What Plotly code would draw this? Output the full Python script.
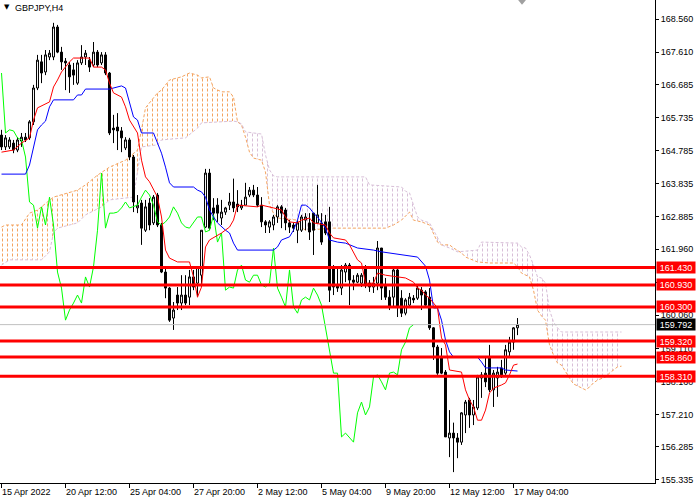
import plotly.graph_objects as go

# GBPJPY H4 with Ichimoku, bar 0 = 15 Apr 2022 20:00, last bar = 17 May
open_ = [165.23, 164.89, 164.89, 165.00, 164.80, 165.06, 165.17, 165.15, 165.61, 166.58,
         167.33, 167.04, 167.47, 167.47, 168.33, 167.61, 167.35, 167.24, 167.10, 166.72,
         167.30, 167.47, 167.38, 167.24, 167.61, 167.30, 167.53, 167.01, 165.43, 165.46,
         165.35, 164.86, 165.09, 164.60, 163.14, 163.28, 162.50, 163.28, 162.71, 163.51,
         162.65, 161.30, 160.84, 159.98, 160.64, 160.41, 160.64, 160.58, 161.16, 160.98,
         161.21, 162.59, 164.14, 163.14, 163.22, 162.85, 163.02, 163.22, 163.31, 163.25,
         163.14, 163.22, 163.51, 163.65, 163.51, 163.22, 162.74, 162.59, 162.65, 162.88,
         163.17, 163.08, 162.71, 162.65, 162.50, 162.50, 162.79, 162.71, 162.99, 162.71,
         162.71, 162.74, 162.74, 161.42, 160.93, 160.84, 161.30, 161.50, 161.07, 161.01,
         160.98, 161.45, 160.98, 160.87, 160.98, 161.99, 160.93, 160.58, 160.58, 161.36,
         160.55, 160.12, 160.35, 160.55, 160.55, 160.78, 160.73, 160.58, 159.70, 159.15,
         158.86, 158.43, 156.54, 156.68, 156.54, 156.42, 157.20, 157.63, 157.20, 157.40,
         158.26, 158.40, 158.86, 157.92, 158.26, 158.55, 158.40, 159.01, 159.29, 159.70]
high = [165.38, 165.23, 165.17, 165.09, 165.17, 165.29, 165.29, 165.66, 166.67, 167.53,
        167.53, 167.67, 167.67, 168.45, 168.39, 167.76, 167.44, 167.33, 167.30, 167.38,
        167.81, 167.67, 167.47, 167.90, 167.67, 167.61, 167.61, 167.04, 165.81, 165.86,
        165.46, 165.17, 165.15, 164.66, 163.51, 163.37, 163.37, 163.42, 163.51, 163.57,
        162.71, 161.42, 160.87, 160.44, 160.87, 161.21, 161.21, 161.36, 161.36, 161.45,
        162.50, 164.26, 164.26, 163.42, 163.42, 163.37, 163.17, 163.57, 163.98, 163.65,
        163.37, 163.86, 163.74, 163.80, 163.74, 163.45, 162.79, 162.79, 162.94, 163.22,
        163.22, 163.14, 162.79, 162.71, 162.79, 162.94, 162.99, 162.99, 162.99, 163.80,
        162.99, 162.94, 163.17, 161.50, 161.45, 161.50, 161.56, 161.56, 161.21, 161.27,
        161.27, 161.50, 161.07, 161.16, 162.19, 161.99, 161.13, 160.78, 161.42, 161.45,
        160.78, 160.55, 160.70, 160.64, 160.93, 160.87, 160.78, 160.84, 159.72, 159.21,
        159.12, 158.49, 157.34, 156.98, 156.68, 157.28, 157.63, 157.69, 157.63, 158.35,
        158.43, 158.86, 159.21, 158.49, 158.58, 158.78, 159.21, 159.44, 159.72, 159.98]
low = [164.80, 164.80, 164.83, 164.71, 164.74, 164.89, 165.03, 165.09, 165.52, 166.52,
       166.72, 166.95, 167.38, 167.38, 167.58, 167.10, 166.52, 166.44, 166.67, 166.67,
       167.24, 167.24, 167.04, 167.18, 167.18, 167.24, 166.95, 165.23, 165.00, 164.80,
       164.74, 164.80, 164.51, 163.02, 162.99, 162.08, 162.45, 162.50, 162.65, 162.59,
       161.27, 160.55, 159.87, 159.64, 160.21, 160.21, 160.35, 160.35, 160.78, 160.58,
       160.87, 162.56, 162.50, 162.79, 162.74, 162.65, 162.94, 163.08, 163.02, 163.02,
       163.08, 163.22, 163.45, 163.45, 163.17, 162.59, 162.42, 162.42, 162.50, 162.71,
       162.56, 162.50, 162.42, 162.45, 162.13, 162.45, 162.50, 162.22, 161.79, 162.71,
       162.08, 162.36, 160.44, 160.64, 160.73, 160.64, 161.01, 160.35, 160.78, 160.98,
       160.87, 160.84, 160.73, 160.70, 160.78, 160.50, 160.50, 160.21, 160.30, 160.01,
       160.01, 160.06, 160.30, 160.41, 160.50, 160.21, 160.30, 159.64, 158.78, 158.35,
       158.37, 156.57, 155.99, 155.56, 155.96, 156.34, 156.68, 156.83, 156.91, 157.34,
       157.69, 158.00, 157.86, 157.43, 157.72, 158.26, 158.35, 158.86, 159.07, 159.49]
close = [164.89, 165.15, 165.09, 164.80, 165.09, 165.17, 165.09, 165.61, 166.58, 167.38,
         167.01, 167.53, 167.58, 168.33, 167.61, 167.33, 167.30, 166.90, 166.95, 167.30,
         167.47, 167.58, 167.18, 167.61, 167.24, 167.53, 167.01, 165.29, 165.38, 165.35,
         165.15, 165.09, 164.60, 163.31, 163.22, 162.56, 163.17, 162.65, 163.45, 162.65,
         161.30, 160.84, 159.92, 160.21, 160.41, 160.64, 160.41, 161.16, 160.87, 161.45,
         162.50, 164.14, 162.56, 162.99, 162.99, 163.02, 163.14, 163.31, 163.14, 163.17,
         163.22, 163.45, 163.65, 163.51, 163.22, 162.74, 162.65, 162.74, 162.88, 163.17,
         162.99, 162.71, 162.59, 162.56, 162.71, 162.88, 162.88, 162.45, 162.50, 162.94,
         162.16, 162.42, 160.78, 160.87, 160.84, 161.36, 161.50, 161.07, 161.01, 161.21,
         161.21, 160.93, 160.87, 160.98, 161.99, 160.84, 160.58, 160.30, 161.36, 160.30,
         160.12, 160.50, 160.58, 160.50, 160.84, 160.64, 160.35, 159.70, 159.15, 158.40,
         158.40, 156.57, 156.68, 156.54, 156.42, 157.26, 157.57, 157.20, 157.43, 158.29,
         158.35, 158.15, 157.92, 158.40, 158.43, 158.35, 159.07, 159.29, 159.70, 159.792]
bars = list(range(len(close)))

# Tenkan-sen (red)
tenkan_x = [0, 3, 5, 7, 8, 9, 12, 13, 14, 15, 17, 18, 22, 23, 25, 26, 27, 28, 30, 31,
            32, 34, 35, 36, 37, 38, 39, 40, 41, 42, 44, 47, 48, 49, 50, 51, 52, 55, 56, 57,
            58, 59, 64, 65, 68, 70, 71, 72, 74, 75, 77, 78, 81, 82, 83, 86, 87, 89, 90, 91,
            93, 94, 96, 101, 103, 104, 105, 106, 107, 109, 110, 111, 112, 115, 116, 117, 118,
            119, 120, 121, 122, 123, 125, 126, 127, 128, 129]
tenkan_y = [164.74, 164.80, 165.00, 165.15, 165.66, 166.01, 166.18, 166.61, 166.81, 167.04,
            167.33, 167.44, 167.44, 167.18, 167.18, 167.10, 166.72, 166.44, 166.32, 166.04,
            165.66, 165.29, 164.51, 164.03, 163.89, 163.65, 163.45, 162.88, 161.93, 161.70,
            161.59, 161.59, 161.16, 160.58, 160.87, 162.02, 162.22, 162.42, 162.50, 162.59,
            162.79, 163.22, 163.17, 163.22, 163.14, 163.08, 162.88, 162.74, 162.71, 162.79,
            162.85, 162.71, 162.65, 162.42, 162.28, 162.22, 162.08, 161.65, 161.56, 160.98,
            160.98, 161.27, 161.21, 161.13, 161.01, 160.84, 160.78, 160.64, 160.55, 160.27,
            159.41, 159.21, 158.49, 158.43, 157.92, 157.63, 157.43, 157.05, 157.05, 157.34,
            157.83, 157.97, 158.06, 158.12, 158.35, 158.63, 158.66]

# Kijun-sen (blue)
kijun_x = [0, 6, 7, 8, 9, 10, 11, 12, 13, 18, 19, 20, 21, 27, 28, 30, 31, 32, 33, 34,
           35, 38, 39, 40, 41, 42, 43, 48, 49, 50, 51, 52, 53, 54, 56, 57, 58, 59, 68, 69,
           70, 72, 73, 74, 75, 76, 77, 78, 79, 80, 81, 82, 84, 86, 87, 89, 93, 95, 104, 105,
           106, 107, 108, 109, 110, 111, 112, 113, 119, 120, 121, 125, 126, 129]
kijun_y = [164.11, 164.11, 164.37, 164.92, 165.38, 165.52, 165.63, 166.04, 166.24, 166.24,
           166.38, 166.38, 166.55, 166.55, 166.58, 166.64, 166.58, 166.15, 165.75, 165.66,
           165.29, 165.29, 165.00, 164.71, 164.31, 163.86, 163.74, 163.74, 163.65, 163.60,
           163.45, 163.08, 162.88, 162.71, 162.50, 162.42, 162.13, 161.93, 161.93, 162.02,
           162.22, 162.31, 162.50, 162.79, 163.22, 163.22, 163.14, 162.99, 162.88, 162.71,
           162.56, 162.22, 162.16, 162.13, 162.08, 161.99, 161.93, 161.88, 161.73, 161.59,
           161.47, 161.07, 160.27, 160.27, 159.92, 159.35, 159.01, 158.86, 158.86, 158.72,
           158.55, 158.55, 158.49, 158.46]

# Senkou span A (sandy brown) and B (thistle), shifted 26 bars ahead
span_a_x = [0, 1, 5, 7, 9, 13, 19, 21, 24, 27, 31, 34, 35, 36, 39, 40, 42, 45, 47, 49,
            50, 52, 53, 55, 57, 58, 59, 60, 61, 62, 63, 65, 66, 67, 68, 69, 74, 75, 76, 83,
            96, 98, 100, 102, 103, 105, 107, 108, 109, 110, 112, 113, 115, 116, 119, 122, 128,
            129, 130, 132, 133, 134, 135, 136, 137, 138, 139, 140, 141, 142, 143, 145, 146,
            147, 148, 149, 151, 152, 153, 154, 155]
span_a_y = [162.59, 162.65, 162.65, 162.99, 163.08, 163.45, 163.65, 163.80, 164.08, 164.31,
            164.51, 164.80, 165.38, 166.01, 166.44, 166.52, 166.81, 166.90, 167.01, 166.95,
            166.87, 166.90, 166.58, 166.47, 166.47, 166.32, 165.61, 165.52, 165.17, 164.74,
            164.57, 164.51, 164.17, 163.22, 162.99, 162.85, 162.79, 162.59, 162.50, 162.56,
            162.56, 162.65, 162.79, 163.02, 162.79, 162.74, 162.65, 162.42, 162.16, 162.08,
            162.08, 161.99, 161.85, 161.73, 161.59, 161.56, 161.56, 161.45, 161.27, 161.16,
            160.78, 160.21, 160.04, 159.92, 159.21, 158.92, 158.69, 158.63, 158.43, 158.26,
            158.09, 157.97, 157.92, 158.00, 158.12, 158.20, 158.29, 158.40, 158.49, 158.58,
            158.60]
span_b_x = [0, 2, 10, 12, 13, 14, 19, 21, 25, 27, 33, 34, 35, 39, 40, 46, 49, 50, 58, 59,
            60, 61, 65, 66, 67, 68, 69, 91, 92, 100, 101, 102, 103, 104, 105, 107, 108, 109,
            110, 112, 114, 119, 120, 129, 130, 131, 132, 133, 134, 135, 136, 137, 138, 139,
            140, 155]
span_b_y = [161.50, 161.65, 161.65, 161.88, 162.42, 162.56, 162.71, 162.94, 163.17, 163.37,
            163.45, 164.17, 164.89, 164.95, 165.09, 165.15, 165.43, 165.58, 165.63, 165.61,
            165.55, 165.32, 165.26, 164.66, 164.23, 164.06, 164.03, 164.03, 163.80, 163.74,
            163.62, 163.57, 163.22, 162.88, 162.79, 162.71, 162.50, 162.31, 162.08, 161.99,
            161.88, 161.93, 162.16, 162.13, 162.02, 161.99, 161.79, 161.50, 161.16, 161.13,
            160.98, 160.21, 159.87, 159.70, 159.58, 159.58]
cloud_switch = 59  # span A drops under span B here

levels = [161.430, 160.930, 160.300, 159.320, 158.860, 158.310]
last_price = 159.792

ytick_vals = [168.560, 167.610, 166.685, 165.735, 164.785, 163.835, 162.885, 161.960,
              161.010, 160.060, 159.110, 158.160, 157.210, 156.285, 155.335]
xtick_bars = [0, 16, 32, 48, 64, 80, 96, 112, 128]
xtick_text = ['15 Apr 2022', '20 Apr 12:00', '25 Apr 04:00', '27 Apr 20:00', '2 May 12:00',
              '5 May 04:00', '9 May 20:00', '12 May 12:00', '17 May 04:00']

FONT = 'Liberation Sans'
SANDY = '#F4A460'
THISTLE = '#D8BFD8'
X_RANGE = [-0.375, 163.375]
Y_RANGE = [155.248, 169.105]

fig = go.Figure()


def part(xs, ys, lo, hi):
    pts = [(x, y) for x, y in zip(xs, ys) if lo <= x <= hi]
    return [p[0] for p in pts], [p[1] for p in pts]


# cloud hatching on the base axes: vertical lines, broken into dashes by a white pattern
for lo, hi, col in [(0, cloud_switch, SANDY), (cloud_switch, 155, THISTLE)]:
    ax, ay = part(span_a_x, span_a_y, lo, hi)
    bx, by = part(span_b_x, span_b_y, lo, hi)
    for shape, fg, sol in [('|', col, 0.2), ('-', 'white', 0.4)]:
        fig.add_trace(go.Scatter(x=ax + bx[::-1], y=ay + by[::-1], mode='none', fill='toself',
                                 fillcolor='rgba(0,0,0,0)',
                                 fillpattern=dict(shape=shape, fgcolor=fg, size=5,
                                                  solidity=sol, fgopacity=1),
                                 hoverinfo='skip'))

fig.add_trace(go.Scatter(x=span_a_x, y=span_a_y, mode='lines',
                         line=dict(color=SANDY, width=1, dash='3px,2px')))
fig.add_trace(go.Scatter(x=span_b_x, y=span_b_y, mode='lines',
                         line=dict(color=THISTLE, width=1, dash='3px,2px')))

# candles and lines go on an overlaid pair of axes so they sit above the cloud
fig.add_trace(go.Candlestick(x=bars, open=open_, high=high, low=low, close=close,
                             xaxis='x2', yaxis='y2',
                             increasing=dict(fillcolor='white', line=dict(color='black', width=1)),
                             decreasing=dict(fillcolor='black', line=dict(color='black', width=1))))

# chikou span = close shifted 26 bars back
fig.add_trace(go.Scatter(x=bars[:-26], y=close[26:], mode='lines', xaxis='x2', yaxis='y2',
                         line=dict(color='#00FF00', width=1)))
fig.add_trace(go.Scatter(x=kijun_x, y=kijun_y, mode='lines', xaxis='x2', yaxis='y2',
                         line=dict(color='#0000FF', width=1)))
fig.add_trace(go.Scatter(x=tenkan_x, y=tenkan_y, mode='lines', xaxis='x2', yaxis='y2',
                         line=dict(color='#FF0000', width=1)))

fig.add_shape(type='line', xref='paper', x0=0, x1=1, y0=last_price, y1=last_price,
              line=dict(color='#C0C0C0', width=1))
for lv in levels:
    fig.add_shape(type='line', xref='paper', x0=0, x1=1, y0=lv, y1=lv,
                  line=dict(color='#FF0000', width=3))
    fig.add_annotation(x=1, xref='paper', y=lv, text=f'{lv:.3f}', showarrow=False,
                       xanchor='left', xshift=1, width=38, height=11, borderpad=0,
                       bgcolor='#FF0000', font=dict(family=FONT, size=9, color='white'))
fig.add_annotation(x=1, xref='paper', y=last_price, text=f'{last_price:.3f}', showarrow=False,
                   xanchor='left', xshift=1, width=38, height=11, borderpad=0,
                   bgcolor='black', font=dict(family=FONT, size=9, color='white'))

for b, t in zip(xtick_bars, xtick_text):
    fig.add_annotation(x=b, y=0, yref='paper', text=t, showarrow=False, xanchor='left',
                       yanchor='top', xshift=-2, yshift=-2,
                       font=dict(family=FONT, size=9, color='black'))

fig.add_annotation(x=0, y=1, xref='paper', yref='paper', text='▼', showarrow=False,
                   xanchor='left', yanchor='top', xshift=2, yshift=-1,
                   font=dict(family='DejaVu Sans', size=7, color='black'))
fig.add_annotation(x=0, y=1, xref='paper', yref='paper', text='GBPJPY,H4', showarrow=False,
                   xanchor='left', yanchor='top', xshift=13, yshift=-1,
                   font=dict(family=FONT, size=9, color='black'))
# chart-shift marker at the top
fig.add_shape(type='path', xref='paper', yref='paper',
              path='M 0.791 1 L 0.803 1 L 0.797 0.99 Z',
              fillcolor='#A0A0A0', line=dict(width=0))

fig.update_layout(width=700, height=500, margin=dict(l=0, r=45, t=0, b=17),
                  plot_bgcolor='white', paper_bgcolor='white', showlegend=False,
                  font=dict(family=FONT, size=9, color='black'),
                  xaxis2=dict(overlaying='x', range=X_RANGE, visible=False,
                              rangeslider=dict(visible=False)),
                  yaxis2=dict(overlaying='y', range=Y_RANGE, visible=False))
fig.update_xaxes(selector=dict(overlaying=None))
fig.update_layout(xaxis=dict(range=X_RANGE, rangeslider=dict(visible=False), showgrid=False,
                             zeroline=False, showline=True, linecolor='black', linewidth=1,
                             tickvals=xtick_bars, showticklabels=False, ticks='outside',
                             ticklen=4, tickcolor='black'),
                  yaxis=dict(range=Y_RANGE, side='right', showgrid=False, zeroline=False,
                             showline=True, linecolor='black', linewidth=1, tickvals=ytick_vals,
                             ticktext=[f'{v:.3f}' for v in ytick_vals], ticks='outside',
                             ticklen=3, tickcolor='black',
                             tickfont=dict(family=FONT, size=9, color='black')))

# the page has a default 8px body margin; drop it so the chart sits at the window corner
fig.write_html("out.html", config={'displayModeBar': False},
               post_script="document.body.style.margin='0';")
